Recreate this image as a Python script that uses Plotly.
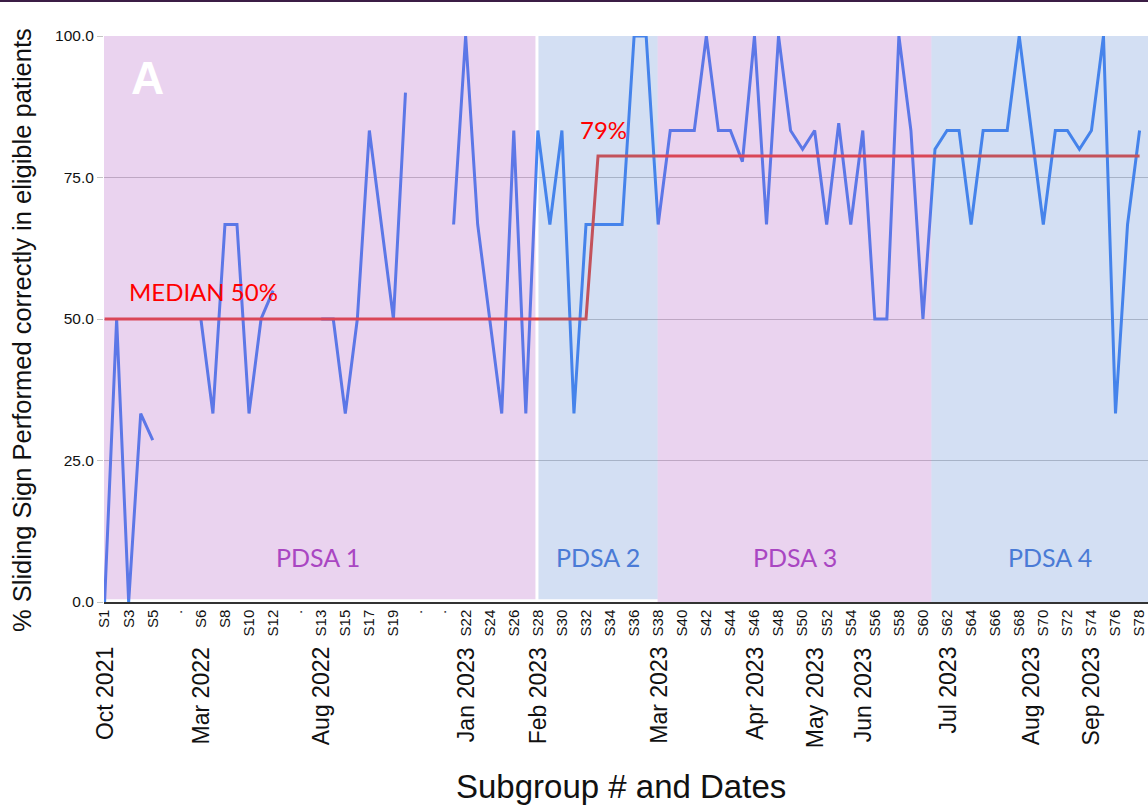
import plotly.graph_objects as go

# ---------------- data ----------------
subgroups = (
    ["S1", "S2", "S3", "S4", "S5", "", ".", ""]
    + ["S6", "S7", "S8", "S9", "S10", "S11", "S12", "", ".", ""]
    + ["S13", "S14", "S15", "S16", "S17", "S18", "S19", "S20", ".", "", ".", "S21"]
    + ["S%d" % n for n in range(22, 79)]
)

pct_correct = [
    0, 50, 0, 33.3, 28.6, None, None, None,
    50, 33.3, 66.7, 66.7, 33.3, 50, 55, None, None, None,
    50, 50, 33.3, 50, 83.3, 66.7, 50, 90, None, None, None, 66.7,
    100, 66.7, 50, 33.3, 83.3, 33.3, 83.3, 66.7, 83.3, 33.3,
    66.7, 66.7, 66.7, 66.7, 100, 100, 66.7, 83.3, 83.3, 83.3,
    100, 83.3, 83.3, 77.8, 100, 66.7, 100, 83.3, 80, 83.3,
    66.7, 84.6, 66.7, 83.3, 50, 50, 100, 83.3, 50, 80,
    83.3, 83.3, 66.7, 83.3, 83.3, 83.3, 100, 83.3, 66.7, 83.3,
    83.3, 80, 83.3, 100, 33.3, 66.7, 83.3,
]

median = [50] * 41 + [78.8] * 46

date_subgroups = ["S1", "S6", "S13", "S22", "S28", "S38", "S46", "S51", "S55", "S62", "S69", "S74"]
date_labels = ["Oct 2021", "Mar 2022", "Aug 2022", "Jan 2023", "Feb 2023", "Mar 2023",
               "Apr 2023", "May 2023", "Jun 2023", "Jul 2023", "Aug 2023", "Sep 2023"]

phase_names = ["PDSA 1", "PDSA 2", "PDSA 3", "PDSA 4"]
phase_start = ["S1", "S28", "S38", "S60"]

y_ticks = [0, 25, 50, 75, 100]

# ---------------- figure ----------------
idx = list(range(len(subgroups)))
pos = {s: i for i, s in enumerate(subgroups) if s}

fig = go.Figure()
fig.add_trace(go.Scatter(
    x=idx, y=pct_correct, mode="lines", connectgaps=False,
    line=dict(color="#4285f4", width=3), showlegend=False, hoverinfo="skip"))
fig.add_trace(go.Scatter(
    x=idx, y=median, mode="lines",
    line=dict(color="#ea4335", width=3), showlegend=False, hoverinfo="skip"))

PURPLE = "rgba(171,79,191,0.25)"
BLUE = "rgba(79,127,207,0.25)"
x_end = 86.7
# phase shading (overlay, drawn above the lines like the reference)
shade = [
    (-0.1, pos["S28"] - 0.2, 0.5, 100.5, PURPLE),
    (pos["S28"] + 0.05, pos["S38"] - 0.05, 0.5, 100.7, BLUE),
    (pos["S38"] - 0.05, pos["S60"] + 0.7, 0, 100, PURPLE),
    (pos["S60"] + 0.7, x_end, 0, 100, BLUE),
]
shapes = []
for x0, x1, y0, y1, c in shade:
    shapes.append(dict(type="rect", xref="x", yref="y", x0=x0, x1=x1, y0=y0, y1=y1,
                       fillcolor=c, line=dict(width=0), layer="above"))
# thin dark bar at the very top of the slide
shapes.append(dict(type="rect", xref="paper", yref="paper", x0=-0.11, x1=1.01,
                   y0=(602 - 2) / 566, y1=(602 + 1) / 566,
                   fillcolor="#3b1d45", line=dict(width=0)))

ann = []
ann.append(dict(text="<b>A</b>", x=0.0412, y=0.926, xref="paper", yref="paper",
                xanchor="center", yanchor="middle", showarrow=False,
                font=dict(family="Liberation Sans", size=46, color="white")))
ann.append(dict(text="MEDIAN 50%", x=0.022, y=0.548, xref="paper", yref="paper",
                xanchor="left", yanchor="middle", showarrow=False,
                font=dict(family="Lato", size=24, color="#ff0000")))
ann.append(dict(text="79%", x=0.454, y=0.834, xref="paper", yref="paper",
                xanchor="left", yanchor="middle", showarrow=False,
                font=dict(family="Lato", size=24, color="#ff0000")))
phase_cx = [0.205, 0.473, 0.662, 0.906]
phase_col = ["#a946c2", "#4a7bd6", "#a946c2", "#4a7bd6"]
for name, cx, col in zip(phase_names, phase_cx, phase_col):
    ann.append(dict(text=name, x=cx, y=0.0795, xref="paper", yref="paper",
                    xanchor="center", yanchor="middle", showarrow=False,
                    font=dict(family="Lato", size=25, color=col)))
for s, d in zip(date_subgroups, date_labels):
    ann.append(dict(text=d, x=pos[s], y=(602 - 645) / 566, xref="x", yref="paper",
                    xanchor="center", yanchor="top", textangle=-90, showarrow=False,
                    font=dict(family="Liberation Sans", size=23, color="#111111")))
ann.append(dict(text="% Sliding Sign Performed correctly in eligible patients",
                x=(22 - 104) / 1044, y=(602 - 330) / 566, xref="paper", yref="paper",
                xanchor="center", yanchor="middle", textangle=-90, showarrow=False,
                font=dict(family="Liberation Sans", size=25.5, color="#111111")))
ann.append(dict(text="Subgroup # and Dates", x=(621 - 104) / 1044, y=(602 - 786) / 566,
                xref="paper", yref="paper", xanchor="center", yanchor="middle",
                showarrow=False,
                font=dict(family="Liberation Sans", size=33, color="#111111")))

fig.update_layout(
    width=1148, height=806,
    margin=dict(l=104, r=0, t=36, b=204, autoexpand=False),
    paper_bgcolor="white", plot_bgcolor="white",
    shapes=shapes, annotations=ann,
    xaxis=dict(
        range=[-0.05, x_end], tickmode="array", automargin=False,
        tickvals=idx[::2], ticktext=subgroups[::2], tickangle=-90,
        tickfont=dict(family="Liberation Sans", size=15, color="#111111"),
        showgrid=False, zeroline=False, showline=True, linecolor="#333333", linewidth=1.5,
        ticks="",
    ),
    yaxis=dict(
        range=[0, 100], tickmode="array", tickvals=y_ticks, tickformat=".1f",
        automargin=False,
        tickfont=dict(family="Liberation Sans", size=15.5, color="#111111"),
        showgrid=True, gridcolor="#c4c4c4", gridwidth=1, zeroline=False,
        ticks="outside", ticklen=6, tickcolor="#c4c4c4",
    ),
)

fig.write_html(
    "out.html",
    config={"displayModeBar": False},
    post_script="document.body.style.margin='0';document.body.style.overflow='hidden';",
)
